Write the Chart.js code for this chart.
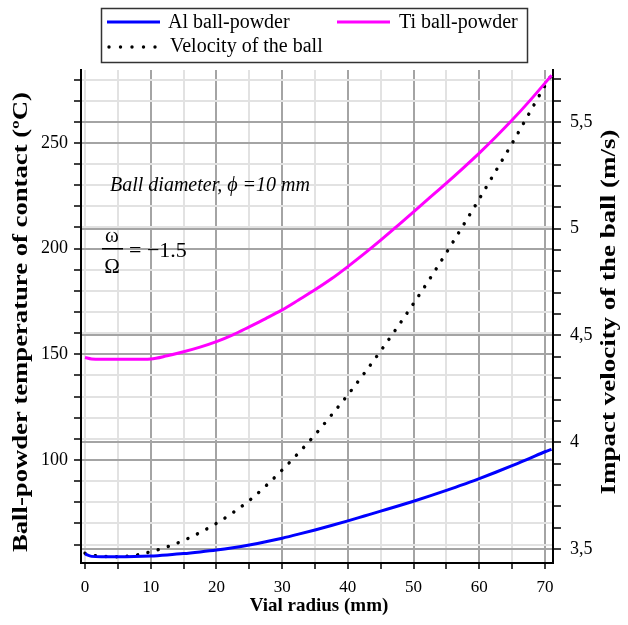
<!DOCTYPE html>
<html>
<head>
<meta charset="utf-8">
<script src="https://cdn.jsdelivr.net/npm/chart.js@4/dist/chart.umd.min.js"></script>
<style>
html,body{margin:0;padding:0;background:#fff;}
#wrap{width:628px;height:625px;position:relative;}
</style>
</head>
<body>
<div id="wrap"><canvas id="c"></canvas></div>
<script>
// ---- data ----
const radius = [0,1,2.5,5,7.5,10,12.5,15,17.5,20,22.5,25,27.5,30,32.5,35,37.5,40,42.5,45,47.5,50,52.5,55,57.5,60,62.5,65,67.5,70,71];
const tiTemp = [148.5,147.8,147.6,147.6,147.6,147.8,149.3,151.2,153.4,156,159.2,163,166.9,171,175.7,180.5,185.7,191.5,197.6,204,210.6,217.4,224.2,231,238,245.2,252.8,260.8,269.3,278.3,282];
const alTemp = [55.5,54.4,54.2,54.2,54.3,54.6,55.1,55.7,56.5,57.4,58.5,59.8,61.3,63,64.9,66.9,69,71.2,73.5,75.8,78.1,80.5,83,85.6,88.3,91.2,94.2,97.3,100.5,103.9,105];
const velocity = [3.48,3.472,3.466,3.464,3.47,3.487,3.51,3.54,3.577,3.62,3.67,3.727,3.795,3.87,3.95,4.035,4.127,4.222,4.323,4.428,4.537,4.65,4.767,4.888,5.013,5.14,5.27,5.40,5.535,5.67,5.72];

const seriesNames = ['Al ball-powder','Ti ball-powder','Velocity of the ball'];
const xTicks = [0,5,10,15,20,25,30,35,40,45,50,55,60,65,70];
const yTicks = [60,70,80,90,100,110,120,130,140,150,160,170,180,190,200,210,220,230,240,250,260,270,280];
const y1Ticks = [3.5,3.6,3.7,3.8,3.9,4.0,4.1,4.2,4.3,4.4,4.5,4.6,4.7,4.8,4.9,5.0,5.1,5.2,5.3,5.4,5.5,5.6,5.7];

const xTitle = 'Vial radius (mm)';
const yTitle = 'Ball-powder temperature of contact (ºC)';
const y1Title = 'Impact velocity of the ball (m/s)';

const SERIF = "'Liberation Serif','Times New Roman',serif";
const DARK = '#a4a4a4', LIGHT = '#e2e2e2';

const toXY = arr => radius.map((r,i)=>({x:r,y:arr[i]}));

const overlay = {
  id:'overlay',
  afterDraw(chart){
    const ctx = chart.ctx;
    ctx.save();
    // legend box
    ctx.strokeStyle = '#333'; ctx.lineWidth = 1.5;
    ctx.strokeRect(101.5, 8.5, 426, 54);
    ctx.font = '20px ' + SERIF; ctx.fillStyle = '#000';
    ctx.textBaseline = 'middle'; ctx.textAlign = 'left';
    ctx.lineWidth = 3;
    ctx.strokeStyle = '#0000ff';
    ctx.beginPath(); ctx.moveTo(107,22); ctx.lineTo(160,22); ctx.stroke();
    ctx.fillText(seriesNames[0], 168, 23);
    ctx.strokeStyle = '#ff00ff';
    ctx.beginPath(); ctx.moveTo(337,22); ctx.lineTo(390,22); ctx.stroke();
    ctx.fillText(seriesNames[1], 399, 23);
    ctx.fillStyle = '#000';
    for (let i=0;i<5;i++){ ctx.beginPath(); ctx.arc(109+i*11.5, 47, 1.7, 0, Math.PI*2); ctx.fill(); }
    ctx.fillText(seriesNames[2], 170, 47);

    // annotations
    ctx.font = 'italic 20px ' + SERIF;
    ctx.fillText('Ball diameter, \u03D5 =10 mm', 110, 186);
    ctx.font = '21px ' + SERIF;
    ctx.textAlign = 'center';
    ctx.fillText('\u03C9', 112, 236);
    ctx.fillText('\u03A9', 112, 267);
    ctx.fillRect(102, 248, 21, 1.5);
    ctx.textAlign = 'left';
    ctx.font = '22px ' + SERIF;
    ctx.fillText('= \u22121.5', 129, 251);

    // axis titles
    ctx.font = 'bold 19px ' + SERIF;
    ctx.textAlign = 'center';
    ctx.fillText(xTitle, 319, 606);
    const vtitle = (text, cx, cy, len) => {
      ctx.save();
      ctx.translate(cx, cy); ctx.rotate(-Math.PI/2);
      ctx.font = 'bold 21px ' + SERIF;
      const w = ctx.measureText(text).width;
      ctx.scale(len / w, 1);
      ctx.textAlign = 'center'; ctx.textBaseline = 'middle';
      ctx.fillText(text, 0, 0);
      ctx.restore();
    };
    vtitle(yTitle, 22, 322, 460);
    vtitle(y1Title, 610, 312, 365);
    ctx.restore();
  }
};

new Chart(document.getElementById('c'), {
  type:'line',
  data:{
    datasets:[
      {label:seriesNames[0], data:toXY(alTemp), yAxisID:'y', borderColor:'#0000ff', borderWidth:3, pointRadius:0, cubicInterpolationMode:'monotone', fill:false},
      {label:seriesNames[1], data:toXY(tiTemp), yAxisID:'y', borderColor:'#ff00ff', borderWidth:3, pointRadius:0, cubicInterpolationMode:'monotone', fill:false},
      {label:seriesNames[2], data:toXY(velocity), yAxisID:'y1', borderColor:'#000', borderWidth:3.4, borderDash:[0.1,10.5], borderCapStyle:'round', pointRadius:0, cubicInterpolationMode:'monotone', fill:false}
    ]
  },
  options:{
    responsive:true, maintainAspectRatio:false, animation:false,
    layout:{padding:{top:70,left:0,right:0,bottom:0}},
    plugins:{legend:{display:false}, tooltip:{enabled:false}},
    scales:{
      x:{
        type:'linear', min:-0.61, max:71.22,
        afterFit(s){ s.height = 62; },
        afterBuildTicks(s){ s.ticks = xTicks.map(v=>({value:v})); },
        ticks:{font:{family:SERIF,size:17}, color:'#000', padding:8, autoSkip:false, maxRotation:0,
          callback:v => (v % 10 === 0 ? String(v) : '')},
        grid:{color:c => (c.tick && c.tick.value % 10 === 0 && c.tick.value !== 0 ? DARK : LIGHT), lineWidth:2, tickColor:'#000', tickLength:6, tickWidth:1.5},
        border:{color:'#000', width:2}
      },
      y:{
        position:'left', min:51.26, max:284.5,
        afterFit(s){ s.width = 81; },
        afterBuildTicks(s){ s.ticks = yTicks.map(v=>({value:v})); },
        ticks:{font:{family:SERIF,size:18}, color:'#000', padding:6, autoSkip:false,
          callback:v => (v % 50 === 0 ? String(v) : '')},
        grid:{color:c => (c.tick && c.tick.value % 50 === 0 ? DARK : LIGHT), lineWidth:2, tickColor:'#000', tickLength:7, tickWidth:1.5},
        border:{color:'#000', width:2}
      },
      y1:{
        position:'right', min:3.4344, max:5.7435,
        afterFit(s){ s.width = 75; },
        afterBuildTicks(s){ s.ticks = y1Ticks.map(v=>({value:v})); },
        ticks:{font:{family:SERIF,size:18}, color:'#000', padding:9, autoSkip:false,
          callback:v => { const d = Math.round(v*10); return d % 5 === 0 ? String(d/10).replace('.', ',') : ''; }},
        grid:{color:c => { if(!c.tick) return 'rgba(0,0,0,0)'; const d = Math.round(c.tick.value*10); return d % 5 === 0 ? DARK : 'rgba(0,0,0,0)'; }, lineWidth:2, tickColor:'#000', tickLength:8, tickWidth:1.5},
        border:{color:'#000', width:2}
      }
    }
  },
  plugins:[overlay]
});
</script>
</body>
</html>
